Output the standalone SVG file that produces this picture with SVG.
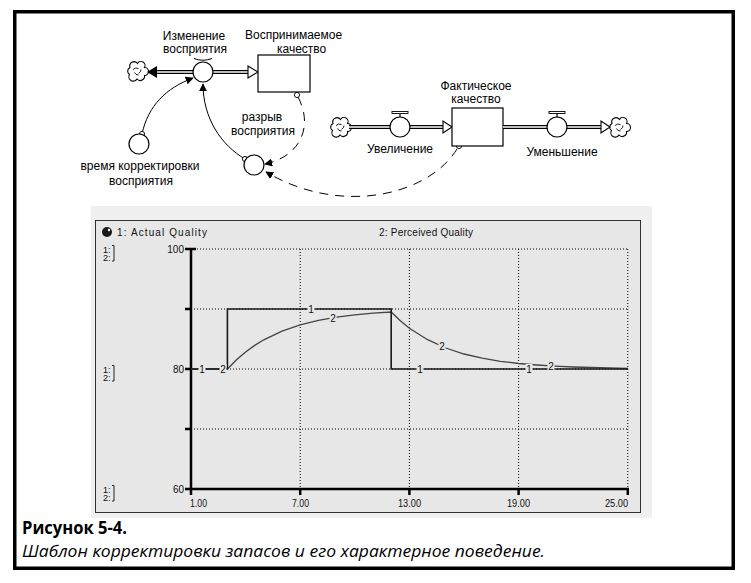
<svg xmlns="http://www.w3.org/2000/svg" width="751" height="583" viewBox="0 0 751 583">
<style>
.lbl{font-family:"Liberation Sans",Arial,sans-serif;font-size:12px;fill:#000}
.ch{font-family:"Liberation Sans",Arial,sans-serif;font-size:10px;fill:#111}
.sm{font-family:"Liberation Sans",Arial,sans-serif;font-size:9px;fill:#111}
.pipeo{stroke:#000;stroke-width:4.2;fill:none}
.pipei{stroke:#fff;stroke-width:1.6;fill:none}
.valve{fill:#fff;stroke:#000;stroke-width:1.2}
.stock{fill:#fff;stroke:#000;stroke-width:1.2}
.hollow{fill:#fff;stroke:#000;stroke-width:1.1}
.conn{fill:none;stroke:#000;stroke-width:1}
.dash{fill:none;stroke:#000;stroke-width:1;stroke-dasharray:9 7}
.orig{fill:#fff;stroke:#000;stroke-width:0.9}
.cloud{fill:#fff;stroke:#000;stroke-width:1.1}
.grid{stroke:#000;stroke-width:1;stroke-dasharray:1 2;fill:none}
.axis{stroke:#000;stroke-width:2.5;fill:none}
.l1{stroke:#1a1a1a;stroke-width:1.6;fill:none}
.l2{stroke:#444;stroke-width:1.3;fill:none}
.lbg{fill:#e7e7e7}
</style>
<defs>
<marker id="ah" viewBox="0 0 10 10" refX="9" refY="5" markerWidth="8" markerHeight="8" markerUnits="userSpaceOnUse" orient="auto">
<path d="M0,0 L10,5 L0,10 Z" fill="#000"/>
</marker>
<g id="cloudshape">
<path class="cloud" d="M-7.5,3.5 A4,4 0 0 1 -7,-3.5 A4.3,4.3 0 0 1 0.5,-7.5 A4,4 0 0 1 7.5,-3.5 A4,4 0 0 1 7.5,4.5 A4.3,4.3 0 0 1 0,8 A4,4 0 0 1 -7.5,3.5 Z"/>
<path fill="none" stroke="#000" stroke-width="0.9" d="M-4,-1.5 Q-1.5,-4 1.5,-2.5 M1.5,2.5 Q4,1 4,-1.5 M-2.5,1.5 Q-1.5,4 1.5,4"/>
</g>
<g id="bracket">
<text class="sm" x="0" y="6">1:</text>
<text class="sm" x="0" y="14">2:</text>
<path d="M9,-1.5 H11 V14 H9" fill="none" stroke="#111" stroke-width="0.9"/>
</g>
</defs>

<rect x="0" y="0" width="751" height="583" fill="#fff"/>
<rect x="14.75" y="11.75" width="718.5" height="556.5" fill="none" stroke="#000" stroke-width="3.5"/>

<!-- connectors -->
<g id="connectors">
<path class="conn" d="M142,134 C148,106 166,88 193,78" marker-end="url(#ah)"/>
<path class="conn" d="M245,159 C221,145 203,118 203,84" marker-end="url(#ah)"/>
<path class="dash" d="M298,97 C313,125 302,156 265,164" marker-end="url(#ah)"/>
<path class="dash" d="M457,149 C428,196 340,216 266,172" marker-end="url(#ah)"/>
<circle class="orig" cx="142" cy="134" r="2.6"/>
<circle class="orig" cx="245" cy="159" r="2.6"/>
<circle class="orig" cx="297" cy="95" r="2.6"/>
<circle class="orig" cx="459" cy="146" r="2.6"/>
</g>

<!-- cloud sources/sinks -->
<g id="cloud-left"><use href="#cloudshape" x="137" y="71"/></g>
<g id="cloud-source"><use href="#cloudshape" x="340" y="127"/></g>
<g id="cloud-sink"><use href="#cloudshape" x="619" y="127"/></g>

<!-- flow: Изменение восприятия -->
<g id="flow-izmenenie">
<line class="pipeo" x1="155" y1="72" x2="250" y2="72"/>
<line class="pipei" x1="155" y1="72" x2="250" y2="72"/>
<polygon points="147,72 157,66 157,78" fill="#000"/>
<polygon class="hollow" points="258,72 248,66 248,78"/>
<path d="M194,58.5 Q203,62 212,58.5" fill="none" stroke="#000" stroke-width="1"/>
<circle class="valve" cx="203" cy="72" r="10"/>
<text class="lbl" x="194" y="40" text-anchor="middle">Изменение</text>
<text class="lbl" x="195" y="53" text-anchor="middle">восприятия</text>
</g>

<!-- stock: Воспринимаемое качество -->
<g id="stock-vosprinimaemoe">
<rect class="stock" x="258" y="55" width="52" height="37"/>
<text class="lbl" x="245" y="39">Воспринимаемое</text>
<text class="lbl" x="277" y="53">качество</text>
</g>

<!-- converter: время корректировки восприятия -->
<g id="conv-vremya">
<circle class="valve" cx="139" cy="144" r="10"/>
<text class="lbl" x="140" y="170" text-anchor="middle">время корректировки</text>
<text class="lbl" x="141" y="185" text-anchor="middle">восприятия</text>
</g>

<!-- converter: разрыв восприятия -->
<g id="conv-razryv">
<circle class="valve" cx="254" cy="165" r="10"/>
<text class="lbl" x="262" y="121" text-anchor="middle">разрыв</text>
<text class="lbl" x="263" y="135" text-anchor="middle">восприятия</text>
</g>

<!-- flow: Увеличение -->
<g id="flow-uvelichenie">
<line class="pipeo" x1="349" y1="127" x2="445" y2="127"/>
<line class="pipei" x1="349" y1="127" x2="445" y2="127"/>
<polygon class="hollow" points="452,127 443,121 443,133"/>
<line x1="400" y1="113" x2="400" y2="117" stroke="#000" stroke-width="1.2"/>
<rect x="392" y="111.5" width="16" height="2" fill="#fff" stroke="#000" stroke-width="0.9"/>
<circle class="valve" cx="400" cy="127" r="10"/>
<text class="lbl" x="400" y="153" text-anchor="middle">Увеличение</text>
</g>

<!-- stock: Фактическое качество -->
<g id="stock-fakticheskoe">
<rect class="stock" x="452" y="108" width="51" height="38"/>
<text class="lbl" x="476" y="90" text-anchor="middle">Фактическое</text>
<text class="lbl" x="476" y="103" text-anchor="middle">качество</text>
</g>

<!-- flow: Уменьшение -->
<g id="flow-umenshenie">
<line class="pipeo" x1="503" y1="127" x2="603" y2="127"/>
<line class="pipei" x1="503" y1="127" x2="603" y2="127"/>
<polygon class="hollow" points="610,127 601,121 601,133"/>
<line x1="557" y1="113" x2="557" y2="117" stroke="#000" stroke-width="1.2"/>
<rect x="549" y="111.5" width="16" height="2" fill="#fff" stroke="#000" stroke-width="0.9"/>
<circle class="valve" cx="557" cy="127" r="10"/>
<text class="lbl" x="562" y="156" text-anchor="middle">Уменьшение</text>
</g>

<!-- chart -->
<g id="chart">
<rect x="91" y="206" width="561" height="312" fill="#f0f0f0"/>
<rect x="95.5" y="220.5" width="545" height="292" fill="#e7e7e7" stroke="#333" stroke-width="1"/>
<circle cx="107" cy="232" r="5" fill="#1a1a1a"/>
<circle cx="109" cy="230" r="1.2" fill="#fff"/>
<text class="ch" x="117" y="236" textLength="90" lengthAdjust="spacing">1: Actual  Quality</text>
<text class="ch" x="379" y="236" textLength="94" lengthAdjust="spacing">2: Perceived Quality</text>
<use href="#bracket" x="103" y="247"/>
<use href="#bracket" x="103" y="367"/>
<use href="#bracket" x="103" y="487"/>
<!-- grid -->
<path class="grid" d="M191,249 H628 M191,309 H628 M191,369 H628 M191,429 H628 M300.2,249 V489 M409.4,249 V489 M518.6,249 V489 M627.8,249 V489"/>
<!-- axes -->
<path class="axis" d="M191,248 V490 M190,489 H629"/>
<path class="axis" d="M185,249 H196 M185,309 H191 M185,369 H191 M185,429 H191 M185,489 H191 M191,489 V495 M300.2,489 V495 M409.4,489 V495 M518.6,489 V495 M627.8,489 V495"/>
<text class="ch" x="184" y="253" text-anchor="end">100</text>
<text class="ch" x="184" y="373" text-anchor="end">80</text>
<text class="ch" x="184" y="493" text-anchor="end">60</text>
<text class="ch" x="190" y="507" textLength="17" lengthAdjust="spacingAndGlyphs">1.00</text>
<text class="ch" x="292" y="507" textLength="17" lengthAdjust="spacingAndGlyphs">7.00</text>
<text class="ch" x="398" y="507" textLength="23" lengthAdjust="spacingAndGlyphs">13.00</text>
<text class="ch" x="507" y="507" textLength="23" lengthAdjust="spacingAndGlyphs">19.00</text>
<text class="ch" x="605" y="507" textLength="23" lengthAdjust="spacingAndGlyphs">25.00</text>
<!-- series 2 -->
<polyline class="l2" points="191,369 227.4,369 236.5,359.8 245.6,352 254.7,345.4 263.8,339.8 282,331.1 300.2,324.8 318.4,320.3 336.6,317.1 354.8,314.8 373,313.2 391.2,312 400.3,320.7 409.4,328.2 427.6,339.7 445.8,348 464,354 482.2,358.2 500.4,361.3 518.6,363.5 536.8,365 555,366.2 573.2,367 591.4,367.5 609.6,368 627.8,368.3"/>
<!-- series 1 -->
<path class="l1" d="M191,369 H227.4 V309 H391.2 V369 H628"/>
<!-- labels -->
<rect class="lbg" x="198.5" y="364" width="7" height="10"/>
<text class="ch" x="202" y="373" text-anchor="middle">1</text>
<rect class="lbg" x="219.5" y="364" width="7" height="10"/>
<text class="ch" x="223" y="373" text-anchor="middle">2</text>
<rect class="lbg" x="307.5" y="304" width="7" height="10"/>
<text class="ch" x="311" y="313" text-anchor="middle">1</text>
<rect class="lbg" x="329.5" y="313" width="7" height="10"/>
<text class="ch" x="333" y="322" text-anchor="middle">2</text>
<rect class="lbg" x="438.5" y="341" width="7" height="10"/>
<text class="ch" x="442" y="350" text-anchor="middle">2</text>
<rect class="lbg" x="416.5" y="364" width="7" height="10"/>
<text class="ch" x="420" y="373" text-anchor="middle">1</text>
<rect class="lbg" x="525.5" y="364" width="7" height="10"/>
<text class="ch" x="529" y="373" text-anchor="middle">1</text>
<rect class="lbg" x="547.5" y="361" width="7" height="10"/>
<text class="ch" x="551" y="370" text-anchor="middle">2</text>
</g>

<!-- caption -->
<g id="caption">
<text x="22" y="534" font-family="'Open Sans','Noto Sans',sans-serif" font-weight="bold" font-size="17" textLength="105" lengthAdjust="spacingAndGlyphs">Рисунок 5-4.</text>
<text x="22" y="557" font-family="'Open Sans','Noto Sans',sans-serif" font-style="italic" font-size="17" textLength="523" lengthAdjust="spacingAndGlyphs">Шаблон корректировки запасов и его характерное поведение.</text>
</g>
</svg>
